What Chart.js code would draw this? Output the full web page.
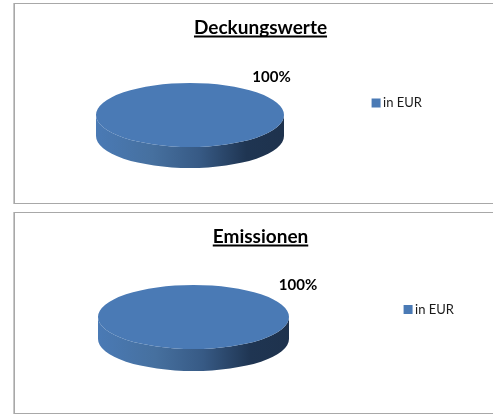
<!DOCTYPE html>
<html>
<head>
<meta charset="utf-8">
<script src="https://cdn.jsdelivr.net/npm/chart.js@4"></script>
<style>
html,body{margin:0;padding:0;background:#fff;width:493px;height:414px;overflow:hidden}
.panel{position:absolute;left:14px;width:493px;box-sizing:border-box;border:1px solid #a8a8a8;outline:0;background:#fff;box-shadow:-1px 0 0 #c8c8c8}
canvas{position:absolute;left:-1px;top:-1px}
</style>
</head>
<body>
<div class="panel" style="top:3px;height:201px"><canvas id="c0" width="493" height="201"></canvas></div>
<div class="panel" style="top:212px;height:202px"><canvas id="c1" width="493" height="202"></canvas></div>
<script>
const categories = ['in EUR'];
const titles = ['Deckungswerte', 'Emissionen'];
const deckungswerte = [100];
const emissionen = [100];
const seriesColor = '#4a7ab5';

const views = [
  {cx:176, cy:112, rx:94, ry:32, depth:21, labelX:257.5, labelY:74, padSide:75, padBottom:1},
  {cx:179.5, cy:105, rx:95.5, ry:32, depth:22, labelX:284, labelY:73, padSide:43, padBottom:7}
];

const pie3d = {
  id:'pie3d',
  beforeDatasetDraw(chart){
    const v = chart.options.plugins.pie3d;
    const arc = chart.getDatasetMeta(0).data[0];
    const ctx = chart.ctx;
    const g = ctx.createLinearGradient(v.cx - v.rx, 0, v.cx + v.rx, 0);
    g.addColorStop(0, '#4a7ab5');
    g.addColorStop(0.3, '#46709f');
    g.addColorStop(0.55, '#375a85');
    g.addColorStop(0.8, '#1f3552');
    g.addColorStop(1, '#1e324d');
    ctx.save();
    ctx.fillStyle = g;
    ctx.beginPath();
    ctx.ellipse(v.cx, v.cy + v.depth, v.rx, v.ry, 0, 0, Math.PI);
    ctx.lineTo(v.cx - v.rx, v.cy);
    ctx.ellipse(v.cx, v.cy, v.rx, v.ry, 0, Math.PI, 0, true);
    ctx.closePath();
    ctx.fill();
    ctx.restore();
    // squash the library's arc into the top face of the disc
    ctx.save();
    ctx.translate(v.cx, v.cy);
    ctx.scale(v.rx / arc.outerRadius, v.ry / arc.outerRadius);
    ctx.translate(-arc.x, -arc.y);
  },
  afterDatasetDraw(chart){ chart.ctx.restore(); },
  afterDraw(chart){
    const v = chart.options.plugins.pie3d;
    const ctx = chart.ctx;
    const data = chart.data.datasets[0].data;
    const total = data.reduce((a,b)=>a+b,0);
    ctx.save();
    ctx.fillStyle = '#000';
    ctx.font = 'bold 15px Lato';
    ctx.textAlign = 'center';
    ctx.textBaseline = 'middle';
    ctx.fillText(Math.round(data[0]/total*100) + '%', v.labelX, v.labelY);
    // title underline
    ctx.font = 'bold 19px Lato';
    const w = ctx.measureText(chart.options.plugins.title.text).width;
    const mid = chart.width / 2;
    ctx.fillRect(mid - w/2, 32.5, w, 2);
    ctx.restore();
  }
};

[deckungswerte, emissionen].forEach((values, i) => {
  const v = views[i];
  new Chart(document.getElementById('c' + i), {
    type:'pie',
    data:{labels:categories, datasets:[{data:values, backgroundColor:seriesColor, borderWidth:0, clip:false}]},
    options:{
      responsive:false,
      animation:false,
      layout:{padding:{left:v.padSide, right:v.padSide, top:0, bottom:v.padBottom}},
      plugins:{
        pie3d:v,
        tooltip:{enabled:false},
        title:{display:true, text:titles[i], color:'#000', font:{family:'Lato', size:19, weight:'bold'}, padding:{top:13, bottom:10}},
        legend:{position:'right', labels:{
          boxWidth:1, boxHeight:1, color:'#1a1a1a', font:{family:'Lato', size:13}, padding:6,
          generateLabels(chart){
            return Chart.controllers.pie.overrides.plugins.legend.labels.generateLabels(chart)
              .map(item => Object.assign(item, {lineWidth:8, strokeStyle:seriesColor}));
          }
        }}
      }
    },
    plugins:[pie3d]
  });
});
</script>
</body>
</html>
